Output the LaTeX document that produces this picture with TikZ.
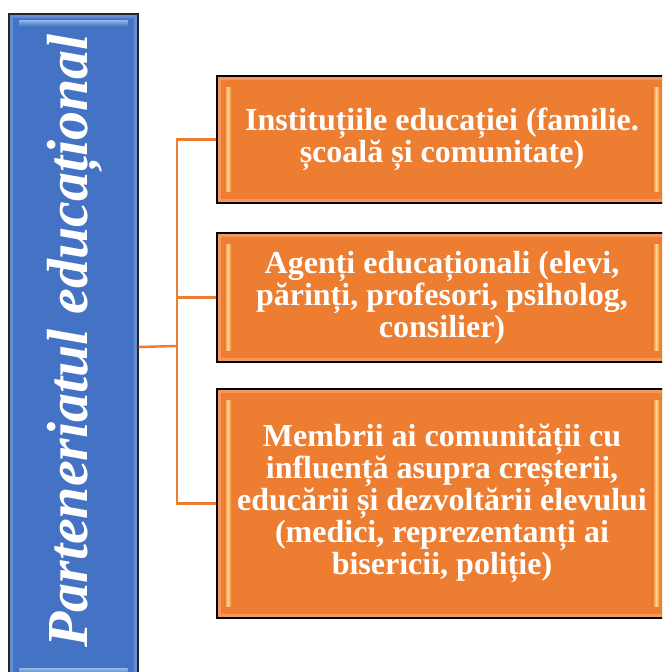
\documentclass[tikz,border=0pt]{standalone}
\usepackage{fontspec}
\setmainfont{Liberation Serif}
\begin{document}
\begin{tikzpicture}[x=1pt,y=1pt]
\definecolor{orangeF}{RGB}{237,125,49}
\definecolor{orangeL}{RGB}{243,150,95}
\definecolor{blueF}{RGB}{68,114,196}
\definecolor{blueL}{RGB}{100,140,210}
\definecolor{hiY}{RGB}{255,232,160}
\definecolor{hiB}{RGB}{160,198,240}
\tikzset{
  orangebox/.style={draw=black, line width=1.3pt, fill=orangeF, minimum width=450pt,
    text=white, font=\bfseries\fontsize{32}{32}\selectfont, align=center, inner sep=0pt},
  bluebox/.style={draw=black!85, line width=1.3pt, fill=blueF, minimum width=129pt,
    minimum height=666pt, inner sep=0pt},
  titletext/.style={rotate=90, text=white, font=\bfseries\itshape\fontsize{58}{58}\selectfont, inner sep=0pt},
  boxtext/.style={text=white, font=\bfseries\fontsize{32}{32}\selectfont, align=center},
  link/.style={draw=orangeF, line width=2.4pt},
  innerglow/.style={draw=orangeL, line width=2.5pt},
  innerglowB/.style={draw=blueL, line width=2.5pt},
}
\useasboundingbox (0,0) rectangle (662,672);
\clip (0,0) rectangle (662,672);
\fill[white] (0,0) rectangle (662,672);

% blue title box
\node[bluebox] (main) at (73.5,325) {};
\draw[innerglowB] ([xshift=3,yshift=-3]main.north west) rectangle ([xshift=-3,yshift=3]main.south east);
\shade[top color=hiB!80!blueF, bottom color=blueF] ([xshift=11,yshift=-7]main.north west) rectangle ([xshift=-11,yshift=-13]main.north east);
\shade[top color=hiB!80!blueF, bottom color=blueF] ([xshift=11,yshift=6]main.south west) rectangle ([xshift=-11,yshift=12]main.south east);
\node[titletext] (title) at (75,331) {Parteneriatul educațional};

% orange boxes
\node[orangebox, minimum height=127pt] (b1) at (442,532.5) {};
\node[orangebox, minimum height=129pt] (b2) at (442,374.5) {};
\node[orangebox, minimum height=229pt] (b3) at (442,168.5) {};
\foreach \b in {b1,b2,b3}{
  \draw[innerglow] ([xshift=3,yshift=-3]\b.north west) rectangle ([xshift=-3,yshift=3]\b.south east);
  \shade[left color=orangeF, right color=orangeF, middle color=hiY!85!orangeF]
    ([xshift=8,yshift=-12]\b.north west) rectangle ([xshift=15,yshift=12]\b.south west);
  \shade[left color=orangeF, right color=orangeF, middle color=hiY!85!orangeF]
    ([xshift=-15,yshift=-12]\b.north east) rectangle ([xshift=-8,yshift=12]\b.south east);
}
\node[boxtext] (t1) at (b1.center)
  {Instituțiile educației (familie.\\școală și comunitate)};
\node[boxtext] (t2) at (b2.center)
  {Agenți educaționali (elevi,\\părinți, profesori, psiholog,\\consilier)};
\node[boxtext] (t3) at (b3.center)
  {Membrii ai comunității cu\\influență asupra creșterii,\\educării și dezvoltării elevului\\(medici, reprezentanți ai\\bisericii, poliție)};

% connectors
\coordinate (j) at (177,326);
\draw[link] (main.east) -- (j);
\draw[link] (b1.west) -- (b1.west -| j) -- (b3.west -| j) -- (b3.west);
\draw[link] (b2.west) -- (b2.west -| j);
\end{tikzpicture}
\end{document}
